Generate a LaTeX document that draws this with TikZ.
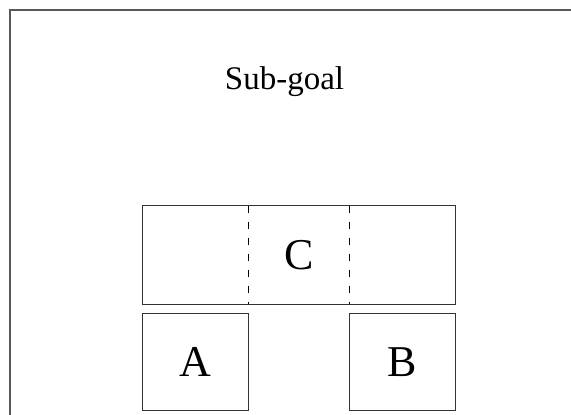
\documentclass[tikz,border=0pt]{standalone}
\usepackage{fontspec}
\setmainfont{Liberation Serif}
\begin{document}
\begin{tikzpicture}[x=1pt,y=-1pt,
  blockbox/.style={draw=black!80,line width=0.9pt,inner sep=0pt,font=\fontsize{44}{48}\selectfont},
  framel/.style={draw=black!65,line width=1.3pt},
  divider/.style={draw=black,line width=0.9pt,dash pattern=on 7pt off 9pt}]
\useasboundingbox (0,0) rectangle (571,415);
\coordinate (fbl) at (10,415);
\coordinate (ftl) at (10,10);
\coordinate (ftr) at (571,10);
\draw[framel] (fbl) -- (ftl) -- (ftr);
\node[anchor=base,font=\fontsize{33}{37}\selectfont] (goal) at (284.5,89.3) {Sub-goal};
\node[blockbox,minimum width=312.7pt,minimum height=98.3pt] (C) at (298.7,254.9) {C};
\node[blockbox,minimum width=106pt,minimum height=97.7pt] (A) at (195.3,361.9) {A};
\node[blockbox,minimum width=106pt,minimum height=97.7pt] (B) at (402,361.9) {B};
\coordinate (d1t) at (248.3,205.7);
\coordinate (d1b) at (248.3,304);
\coordinate (d2t) at (349,205.7);
\coordinate (d2b) at (349,304);
\draw[divider] (d1t) -- (d1b);
\draw[divider] (d2t) -- (d2b);
\end{tikzpicture}
\end{document}
